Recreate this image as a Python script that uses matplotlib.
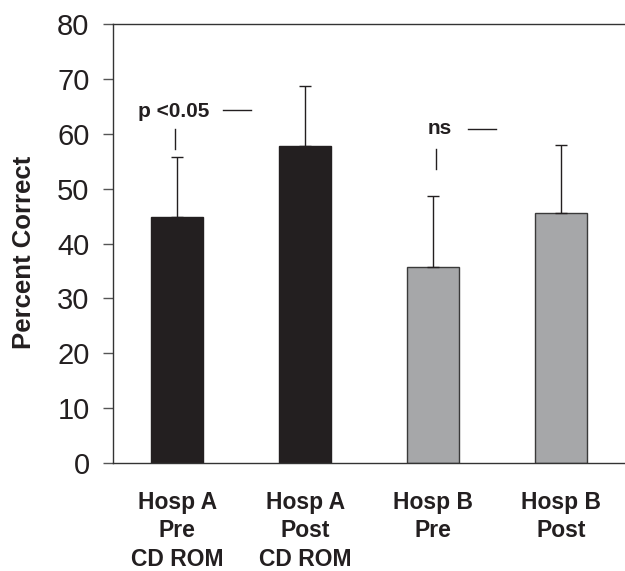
import numpy as np
import matplotlib.pyplot as plt

plt.rcParams['font.family'] = ['Liberation Sans', 'DejaVu Sans']

# Data
groups = ["Hosp A\nPre\nCD ROM", "Hosp A\nPost\nCD ROM", "Hosp B\nPre", "Hosp B\nPost"]
means = [44.8, 57.7, 35.7, 45.5]
errors = [10.9, 11.0, 12.9, 12.5]
bar_colors = ["#231f20", "#231f20", "#a6a7a9", "#a6a7a9"]
edge_colors = ["#231f20", "#231f20", "#3a3a3a", "#3a3a3a"]

fig = plt.figure(figsize=(6.25, 5.71), dpi=100)
ax = fig.add_axes([0.181, 0.189, 0.819, 0.769])

x = np.arange(len(groups))
ax.bar(x, means, width=0.41, color=bar_colors, edgecolor=edge_colors, linewidth=1.0, zorder=2)
# one-sided (upper) error bars
ax.errorbar(x, means, yerr=[np.zeros(len(errors)), errors], fmt='none',
            ecolor='#231f20', elinewidth=1.0, capsize=4.5, capthick=1.0, zorder=3)

# significance annotations
ax.text(-0.03, 64.0, "p <0.05", ha='center', va='center', fontsize=15, fontweight='bold', color='#231f20')
ax.plot([0.36, 0.58], [64.4, 64.4], color='#231f20', lw=1.0)
ax.plot([-0.02, -0.02], [57.3, 60.8], color='#231f20', lw=1.0)
ax.text(2.05, 60.9, "ns", ha='center', va='center', fontsize=15, fontweight='bold', color='#231f20')
ax.plot([2.27, 2.49], [60.8, 60.8], color='#231f20', lw=1.0)
ax.plot([2.02, 2.02], [53.5, 57.3], color='#231f20', lw=1.0)

ax.set_xlim(-0.5, 3.5)
ax.set_ylim(0, 80)
ax.set_yticks(range(0, 81, 10))
ax.tick_params(axis='y', direction='out', length=7, width=1.0, pad=10, labelsize=21,
               color='#555555', labelcolor='#231f20')
ax.set_xticks(x)
ax.set_xticklabels(groups, fontsize=16.5, fontweight='bold', color='#231f20', linespacing=1.3)
ax.tick_params(axis='x', length=0, pad=20)

for s in ['left', 'top', 'bottom']:
    ax.spines[s].set_color('#333333')
    ax.spines[s].set_linewidth(1.0)
ax.spines['right'].set_visible(False)

ax.set_ylabel("Percent Correct", fontsize=18.5, fontweight='bold', color='#231f20')
ax.yaxis.set_label_coords(-0.15, 0.48)

fig.savefig("out.png", dpi=100)
